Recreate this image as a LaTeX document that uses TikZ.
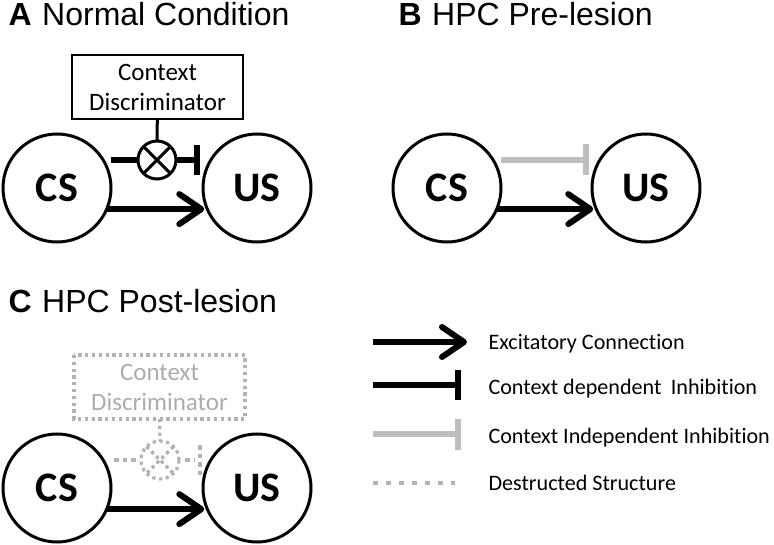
\documentclass[tikz,border=0pt]{standalone}
\usepackage{fontspec}
\setmainfont{Carlito}[Ligatures={NoCommon}]
\newfontfamily\arialf{Liberation Sans}
\usetikzlibrary{arrows.meta,calc}
\definecolor{lgray}{RGB}{190,190,190}
\definecolor{dgray}{RGB}{178,178,178}
\definecolor{tgray}{RGB}{172,172,172}
\begin{document}
\begin{tikzpicture}[x=1pt,y=-1pt,
  nd/.style={circle,draw,line width=3pt,minimum size=108pt,inner sep=0pt,outer sep=0pt,font=\bfseries\fontsize{42}{42}\selectfont},
  cbox/.style={draw,line width=2.6pt,minimum width=171pt,minimum height=64pt,inner sep=0pt,outer sep=0pt,align=center,font=\fontsize{25}{30}\selectfont},
  xnode/.style={circle,draw,line width=3pt,minimum size=38pt,inner sep=0pt,outer sep=0pt},
  ttl/.style={anchor=base west,font=\arialf\fontsize{32}{32}\selectfont},
  lgd/.style={anchor=base west,font=\fontsize{22.1}{22.1}\selectfont},
  exc/.style={line width=6pt,-{Straight Barb[length=22pt,width=30pt,round]}},
  inh/.style={line width=6pt,-{Bar[width=30pt]}},
  inhg/.style={line width=6pt,lgray,-{Bar[width=31pt]}},
  thinb/.style={line width=3pt},
  dst/.style={dgray,line width=3.2pt,dash pattern=on 3.2pt off 3.6pt},
  dstb/.style={dgray,line width=4.5pt,dash pattern=on 4.5pt off 4pt},
]
\useasboundingbox (0,0) rectangle (774,545);

% ---------- Panel A ----------
\node[ttl] (ta) at (5,26) {\textbf{A}\hspace{0.33em}Normal Condition};
\node[nd] (csA) at (57,188) {CS};
\node[nd] (usA) at (257,188) {US};
\node[cbox] (cdA) at (157.5,87) {Context\\Discriminator};
\node[xnode] (xA) at (157,160) {};
\draw[thinb] (xA.45) -- (xA.225);
\draw[thinb] (xA.135) -- (xA.315);
\draw[thinb] (cdA) -- (xA);
\draw[line width=6pt] (csA.east |- xA) -- (xA.west);
\draw[inh] (xA.east) -- ($(usA.west |- xA)+(-3.5,0)$);
\draw[exc] (csA.-23) -- ($(usA.203)+(-3,0)$);

% ---------- Panel B ----------
\node[ttl] (tb) at (395,26) {\textbf{B}\hspace{0.33em}HPC Pre-lesion};
\node[nd] (csB) at (447,188) {CS};
\node[nd] (usB) at (646,188) {US};
\draw[inhg] ($(csB.east)+(0,-28)$) -- ($(usB.west)+(-3.5,-28)$);
\draw[exc] (csB.-23) -- ($(usB.203)+(-3,0)$);

% ---------- Panel C ----------
\node[ttl] (tc) at (5,313) {\textbf{C}\hspace{0.33em}HPC Post-lesion};
\node[nd] (csC) at (57,488) {CS};
\node[nd] (usC) at (257,488) {US};
\node[cbox,draw=none,text=tgray] (cdC) at (159.5,387) {Context\\Discriminator};
\draw[dst] (cdC.north west) rectangle (cdC.south east);
\node[xnode,draw=none] (xC) at (160,460) {};
\draw[dst] (xC) circle (19pt);
\draw[dst] (xC.45) -- (xC.225);
\draw[dst] (xC.135) -- (xC.315);
\draw[dst] (cdC.south) -- (xC.north);
\draw[dstb] ($(csC.east |- xC)+(3,0)$) -- ($(xC.west)+(-2,0)$);
\draw[dstb] ($(xC.east)+(6,0)$) -- ($(usC.west |- xC)+(-8,0)$);
\draw[dstb] ($(usC.west |- xC)+(-3,-15)$) -- ($(usC.west |- xC)+(-3,16)$);
\draw[exc] (csC.-23) -- ($(usC.203)+(-3,0)$);

% ---------- Legend ----------
\coordinate (l1s) at (373,342); \coordinate (l1e) at (467,342);
\coordinate (l2s) at (373,385); \coordinate (l2e) at (461,385);
\coordinate (l3s) at (373,434); \coordinate (l3e) at (461,434);
\coordinate (l4s) at (373,483); \coordinate (l4e) at (455,483);
\draw[exc] (l1s) -- (l1e);
\draw[inh] (l2s) -- (l2e);
\draw[inhg] (l3s) -- (l3e);
\draw[dgray,line width=4.5pt,dash pattern=on 4.5pt off 8.5pt] (l4s) -- (l4e);
\node[lgd] (t1) at (485,350) {Excitatory Connection};
\node[lgd] (t2) at (485,395) {Context dependent\hspace{0.2em} Inhibition};
\node[lgd] (t3) at (485,443) {Context Independent Inhibition};
\node[lgd] (t4) at (485,490) {Destructed Structure};
\end{tikzpicture}
\end{document}
